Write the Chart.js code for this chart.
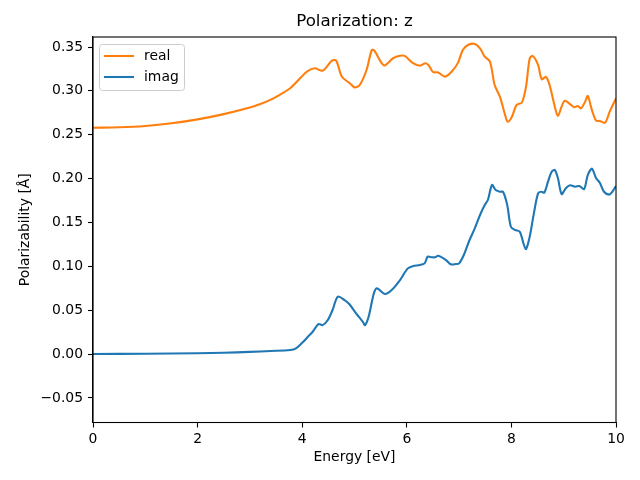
<!DOCTYPE html>
<html>
<head>
<meta charset="utf-8">
<script src="https://cdn.jsdelivr.net/npm/chart.js@4/dist/chart.umd.min.js"></script>
<style>
html,body{margin:0;padding:0;background:#fff;}
#wrap{width:640px;height:480px;}
</style>
</head>
<body>
<div id="wrap"><canvas id="c" width="640" height="480"></canvas></div>
<script>
const chartTitle = "Polarization: z";
const xAxisLabel = "Energy [eV]";
const yAxisLabel = "Polarizability [Å]";
const seriesNames = ["real", "imag"];
const xTickValues = [0, 2, 4, 6, 8, 10];
const yTickValues = [-0.05, 0.00, 0.05, 0.10, 0.15, 0.20, 0.25, 0.30, 0.35];

const realEnergy = [0, 0.5, 1.0, 1.5, 2.0, 2.5, 3.0, 3.2, 3.4, 3.57, 3.77, 3.96, 4.09, 4.24, 4.39, 4.57, 4.65, 4.76, 4.91, 5.0, 5.1, 5.23, 5.33, 5.38, 5.52, 5.58, 5.74, 5.87, 5.96, 6.12, 6.25, 6.36, 6.42, 6.5, 6.6, 6.73, 6.86, 6.98, 7.07, 7.17, 7.3, 7.4, 7.49, 7.59, 7.68, 7.78, 7.87, 7.93, 8.01, 8.1, 8.2, 8.28, 8.35, 8.41, 8.51, 8.58, 8.66, 8.73, 8.83, 8.89, 8.96, 9.02, 9.12, 9.2, 9.27, 9.33, 9.41, 9.46, 9.54, 9.62, 9.69, 9.79, 9.88, 10.0];
const realValues = [0.258, 0.2585, 0.2600, 0.2630, 0.2675, 0.2735, 0.2810, 0.2850, 0.2900, 0.2955, 0.3030, 0.3143, 0.3220, 0.3257, 0.3230, 0.3345, 0.3345, 0.3160, 0.3087, 0.3040, 0.3067, 0.3238, 0.3466, 0.3458, 0.3315, 0.3290, 0.3372, 0.3400, 0.3398, 0.3315, 0.3287, 0.3315, 0.3290, 0.3215, 0.3210, 0.3162, 0.3220, 0.3322, 0.3466, 0.3523, 0.3535, 0.3485, 0.3390, 0.3333, 0.3067, 0.2934, 0.2745, 0.2649, 0.2706, 0.2840, 0.2866, 0.3048, 0.3370, 0.3398, 0.3295, 0.3133, 0.3160, 0.3067, 0.2820, 0.2714, 0.2820, 0.2888, 0.2850, 0.2813, 0.2828, 0.2800, 0.2877, 0.2942, 0.2780, 0.2660, 0.2657, 0.2637, 0.2763, 0.2915];

const imagEnergy = [0, 1, 2, 2.5, 3, 3.4, 3.77, 3.88, 3.99, 4.11, 4.2, 4.31, 4.39, 4.49, 4.58, 4.68, 4.81, 4.9, 5.03, 5.16, 5.2, 5.27, 5.37, 5.43, 5.58, 5.71, 5.87, 6.02, 6.12, 6.25, 6.34, 6.4, 6.48, 6.54, 6.6, 6.75, 6.84, 6.94, 7.0, 7.09, 7.2, 7.3, 7.4, 7.49, 7.55, 7.63, 7.7, 7.78, 7.84, 7.92, 7.99, 8.07, 8.16, 8.24, 8.28, 8.35, 8.43, 8.51, 8.57, 8.63, 8.7, 8.77, 8.83, 8.89, 8.96, 9.04, 9.12, 9.22, 9.3, 9.39, 9.46, 9.54, 9.62, 9.69, 9.77, 9.87, 9.93, 10.0];
const imagValues = [0.0, 0.0004, 0.0009, 0.0015, 0.0025, 0.0035, 0.0046, 0.0065, 0.0122, 0.0197, 0.0254, 0.0342, 0.0330, 0.0388, 0.0502, 0.0654, 0.0616, 0.0570, 0.0464, 0.0368, 0.0330, 0.0425, 0.0692, 0.0749, 0.0684, 0.0730, 0.0844, 0.0977, 0.1003, 0.1015, 0.1034, 0.1110, 0.1103, 0.1103, 0.1120, 0.1072, 0.1023, 0.1026, 0.1034, 0.1129, 0.1300, 0.1433, 0.1585, 0.1699, 0.1756, 0.1927, 0.1870, 0.1850, 0.1850, 0.1699, 0.1451, 0.1414, 0.1395, 0.1243, 0.1197, 0.1338, 0.1604, 0.1832, 0.1850, 0.1840, 0.1965, 0.2079, 0.2098, 0.2003, 0.1824, 0.1889, 0.1924, 0.1908, 0.1916, 0.1881, 0.2041, 0.2113, 0.2003, 0.1953, 0.1850, 0.1817, 0.1850, 0.1916];

const FONT = "'DejaVu Sans', sans-serif";
const toPts = (xs, ys) => xs.map((x, i) => ({x: x, y: ys[i]}));

const decorPlugin = {
  id: 'decor',
  afterDraw(chart) {
    const ctx = chart.ctx;
    const a = chart.chartArea;
    ctx.save();
    ctx.strokeStyle = '#000';
    ctx.lineWidth = 1.1;
    ctx.strokeRect(a.left, a.top, a.right - a.left, a.bottom - a.top);
    ctx.fillStyle = '#000';
    ctx.font = '16.7px ' + FONT;
    ctx.textAlign = 'center';
    ctx.textBaseline = 'middle';
    ctx.fillText(chartTitle, (a.left + a.right) / 2, 22);
    ctx.font = '13.9px ' + FONT;
    ctx.fillText(xAxisLabel, (a.left + a.right) / 2, 457);
    ctx.translate(25, (a.top + a.bottom) / 2);
    ctx.rotate(-Math.PI / 2);
    ctx.fillText(yAxisLabel, 0, 0);
    ctx.restore();
    ctx.save();
    const bx = 99.5, by = 44.5, bw = 85, bh = 46, r = 3;
    ctx.fillStyle = 'rgba(255,255,255,0.8)';
    ctx.strokeStyle = '#cccccc';
    ctx.lineWidth = 1;
    ctx.beginPath();
    ctx.moveTo(bx + r, by);
    ctx.lineTo(bx + bw - r, by);
    ctx.arcTo(bx + bw, by, bx + bw, by + r, r);
    ctx.lineTo(bx + bw, by + bh - r);
    ctx.arcTo(bx + bw, by + bh, bx + bw - r, by + bh, r);
    ctx.lineTo(bx + r, by + bh);
    ctx.arcTo(bx, by + bh, bx, by + bh - r, r);
    ctx.lineTo(bx, by + r);
    ctx.arcTo(bx, by, bx + r, by, r);
    ctx.closePath();
    ctx.fill();
    ctx.stroke();
    ctx.font = '13.9px ' + FONT;
    ctx.textAlign = 'left';
    ctx.textBaseline = 'middle';
    chart.data.datasets.forEach((ds, i) => {
      const y = 56 + i * 21;
      ctx.strokeStyle = ds.borderColor;
      ctx.lineWidth = 2.1;
      ctx.beginPath();
      ctx.moveTo(104, y);
      ctx.lineTo(134, y);
      ctx.stroke();
      ctx.fillStyle = '#000';
      ctx.fillText(ds.label, 144, y);
    });
    ctx.restore();
  }
};

new Chart(document.getElementById('c'), {
  type: 'line',
  data: {
    datasets: [
      {label: seriesNames[0], data: toPts(realEnergy, realValues), borderColor: '#ff7f0e', backgroundColor: '#ff7f0e', borderWidth: 2.1, pointRadius: 0, tension: 0.3, fill: false, order: 2},
      {label: seriesNames[1], data: toPts(imagEnergy, imagValues), borderColor: '#1f77b4', backgroundColor: '#1f77b4', borderWidth: 2.1, pointRadius: 0, tension: 0.3, fill: false, order: 1}
    ]
  },
  options: {
    responsive: false,
    animation: false,
    layout: {padding: {left: 0, right: 24, top: 37, bottom: 0}},
    plugins: {legend: {display: false}, title: {display: false}, tooltip: {enabled: false}},
    scales: {
      x: {
        type: 'linear', min: 0, max: 10,
        afterBuildTicks: s => { s.ticks = xTickValues.map(v => ({value: v})); },
        afterFit: s => { s.height = 57.5; },
        grid: {drawOnChartArea: false, tickLength: 5, tickColor: '#000', tickWidth: 1.1},
        border: {display: true, color: '#000', width: 1.1},
        ticks: {color: '#000', padding: 4, font: {family: FONT, size: 13.9}, maxRotation: 0, callback: v => String(v)}
      },
      y: {
        type: 'linear', min: -0.078, max: 0.3614,
        afterBuildTicks: s => { s.ticks = yTickValues.map(v => ({value: v})); },
        afterFit: s => { s.width = 93; },
        grid: {drawOnChartArea: false, tickLength: 5, tickColor: '#000', tickWidth: 1.1},
        border: {display: true, color: '#000', width: 1.1},
        ticks: {color: '#000', padding: 5, font: {family: FONT, size: 13.9}, callback: v => (v < -1e-9 ? '\u2212' : '') + Math.abs(v).toFixed(2)}
      }
    }
  },
  plugins: [decorPlugin]
});
</script>
</body>
</html>
